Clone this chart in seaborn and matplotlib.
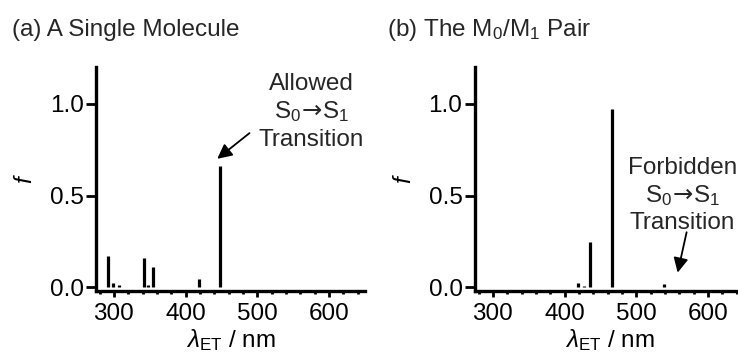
import matplotlib
matplotlib.use("Agg")
import matplotlib.pyplot as plt
from matplotlib.ticker import MultipleLocator
import seaborn as sns

# Stick spectra: wavelength (nm) and oscillator strength f
single_wl = [292, 299, 307, 314, 320, 327, 342, 348, 355, 368, 378, 401, 418.5, 438, 448, 478, 549]
single_f = [0.168, 0.022, 0.010, 0.004, 0.004, 0.004, 0.158, 0.010, 0.110, 0.004, 0.004, 0.004, 0.045, 0.004, 0.663, 0.004, 0.004]

pair_wl = [418.6, 427, 435, 447, 454, 466, 476, 485, 507, 527, 538, 548, 562, 580, 597]
pair_f = [0.025, 0.006, 0.249, 0.004, 0.004, 0.971, 0.004, 0.004, 0.004, 0.004, 0.020, 0.004, 0.004, 0.004, 0.004]

panel_titles = ["(a) A Single Molecule", r"(b) The M$_0$/M$_1$ Pair"]
x_ticks = [300, 400, 500, 600]
y_ticks = [0.0, 0.5, 1.0]
transition_label = r"S$_0\!\mathsf{\rightarrow}\!$S$_1$"

sns.set_theme(style="ticks")
plt.rcParams["font.family"] = ["Liberation Sans", "DejaVu Sans"]
plt.rcParams["mathtext.fontset"] = "custom"
plt.rcParams["mathtext.rm"] = "Liberation Sans"
plt.rcParams["mathtext.it"] = "Liberation Sans:italic"
plt.rcParams["mathtext.bf"] = "Liberation Sans:bold"
plt.rcParams["mathtext.sf"] = "DejaVu Sans"
plt.rcParams["mathtext.fallback"] = "stixsans"

FS = 17.5

fig = plt.figure(figsize=(7.38, 3.58), dpi=100)
ax_w = 269 / 738
ax_h = 224 / 358
ax_b = 1 - 291 / 358
ax1 = fig.add_axes([96 / 738, ax_b, ax_w, ax_h])
ax2 = fig.add_axes([475 / 738, ax_b, ax_w, ax_h])


def style_axis(ax, wl, f):
    ax.vlines(wl, 0, f, colors="black", lw=2.3, capstyle="butt")
    ax.set_xlim(275, 650)
    ax.set_ylim(-0.02, 1.2)
    ax.set_xticks(x_ticks)
    ax.set_yticks(y_ticks)
    ax.set_yticklabels([f"{v:.1f}" for v in y_ticks])
    ax.xaxis.set_minor_locator(MultipleLocator(20))
    sns.despine(ax=ax)
    for side in ("left", "bottom"):
        ax.spines[side].set_linewidth(2.4)
        ax.spines[side].set_color("black")
    ax.tick_params(axis="y", which="major", direction="out", length=7,
                   width=2, color="black", labelsize=FS, pad=2, labelcolor="black")
    ax.tick_params(axis="x", which="major", direction="out", length=4.5,
                   width=2, color="black", labelsize=FS, pad=4, labelcolor="black")
    ax.tick_params(axis="x", which="minor", direction="out", length=2.5,
                   width=2, color="black")
    ax.set_xlabel(r"$\lambda_{\mathrm{ET}}$ / nm", fontsize=FS, color="black", labelpad=2)
    ax.set_ylabel(r"$f$", fontsize=FS, color="black", labelpad=9)
    ax.set_facecolor("white")


style_axis(ax1, single_wl, single_f)
style_axis(ax2, pair_wl, pair_f)

fig.text(12 / 738, 1 - 30 / 358, panel_titles[0], fontsize=17.5, va="center", ha="left")
fig.text(387 / 738, 1 - 30 / 358, panel_titles[1], fontsize=17.5, va="center", ha="left")

# Annotation for the allowed transition
for dy, line in zip([0.15, 0.0, -0.15], ["Allowed", transition_label, "Transition"]):
    ax1.text(575, 0.955 + dy, line, fontsize=FS, ha="center", va="center")
ax1.annotate("", xy=(444, 0.70), xytext=(489, 0.84),
             arrowprops=dict(arrowstyle="-|>", color="black", lw=1.3,
                             mutation_scale=22, shrinkA=0, shrinkB=0))

# Annotation for the forbidden transition
for dy, line in zip([0.15, 0.0, -0.15], ["Forbidden", transition_label, "Transition"]):
    ax2.text(564, 0.50 + dy, line, fontsize=FS, ha="center", va="center", clip_on=False)
ax2.annotate("", xy=(557.5, 0.08), xytext=(570, 0.30),
             arrowprops=dict(arrowstyle="-|>", color="black", lw=1.3,
                             mutation_scale=22, shrinkA=0, shrinkB=0))

fig.savefig("out.png", dpi=100, facecolor="white")
